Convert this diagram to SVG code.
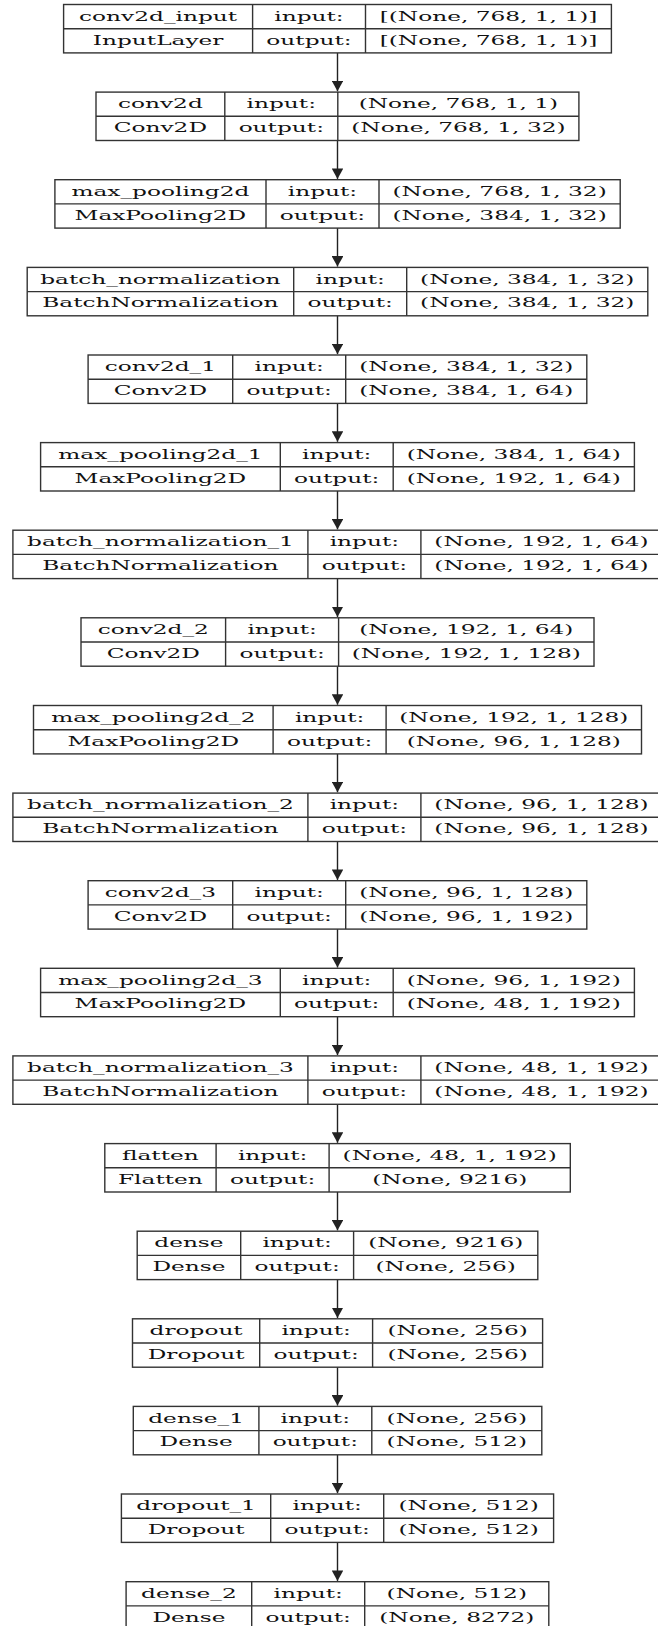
<svg xmlns="http://www.w3.org/2000/svg" width="658" height="1626" viewBox="0 0 658 1626">
<style>
.box{fill:#fff;stroke:#333;stroke-width:1.4}
.ln{stroke:#333;stroke-width:1.4;fill:none}
.e{stroke:#222;stroke-width:1.4;fill:none}
text{font-family:"DejaVu Serif","Liberation Serif",serif;font-size:13px;fill:#111;text-anchor:middle}
</style>
<defs>
<marker id="ah" markerUnits="userSpaceOnUse" markerWidth="10.5" markerHeight="11.6" refX="10.5" refY="5.8" orient="auto"><path d="M0,0 L10.5,5.8 L0,11.6 z" fill="#222"/></marker>
</defs>
<rect width="658" height="1626" fill="#fff"/>
<g id="edges">
<path class="e" d="M337.5,52.9V91.3" marker-end="url(#ah)"/>
<path class="e" d="M337.5,140.5V178.9" marker-end="url(#ah)"/>
<path class="e" d="M337.5,228.1V266.6" marker-end="url(#ah)"/>
<path class="e" d="M337.5,315.8V354.2" marker-end="url(#ah)"/>
<path class="e" d="M337.5,403.4V441.8" marker-end="url(#ah)"/>
<path class="e" d="M337.5,491.0V529.4" marker-end="url(#ah)"/>
<path class="e" d="M337.5,578.6V617.0" marker-end="url(#ah)"/>
<path class="e" d="M337.5,666.2V704.7" marker-end="url(#ah)"/>
<path class="e" d="M337.5,753.9V792.3" marker-end="url(#ah)"/>
<path class="e" d="M337.5,841.5V879.9" marker-end="url(#ah)"/>
<path class="e" d="M337.5,929.1V967.5" marker-end="url(#ah)"/>
<path class="e" d="M337.5,1016.7V1055.1" marker-end="url(#ah)"/>
<path class="e" d="M337.5,1104.3V1142.8" marker-end="url(#ah)"/>
<path class="e" d="M337.5,1192.0V1230.4" marker-end="url(#ah)"/>
<path class="e" d="M337.5,1279.6V1318.0" marker-end="url(#ah)"/>
<path class="e" d="M337.5,1367.2V1405.6" marker-end="url(#ah)"/>
<path class="e" d="M337.5,1454.8V1493.2" marker-end="url(#ah)"/>
<path class="e" d="M337.5,1542.4V1580.9" marker-end="url(#ah)"/>
</g>
<g id="conv2d_input">
<rect class="box" x="63.6" y="4.5" width="547.8" height="48.4"/>
<path class="ln" d="M252.6,4.5V52.9M365.5,4.5V52.9M63.6,28.7H611.4"/>
<text transform="translate(158.1 20.7) scale(1.79 1)">conv2d_input</text>
<text transform="translate(309.0 20.7) scale(1.79 1)">input:</text>
<text transform="translate(488.5 20.7) scale(1.79 1)">[(None, 768, 1, 1)]</text>
<text transform="translate(158.1 44.5) scale(1.79 1)">InputLayer</text>
<text transform="translate(309.0 44.5) scale(1.79 1)">output:</text>
<text transform="translate(488.5 44.5) scale(1.79 1)">[(None, 768, 1, 1)]</text>
</g>
<g id="conv2d">
<rect class="box" x="96.0" y="92.1" width="482.9" height="48.4"/>
<path class="ln" d="M224.8,92.1V140.5M337.8,92.1V140.5M96.0,116.3H578.9"/>
<text transform="translate(160.4 108.3) scale(1.79 1)">conv2d</text>
<text transform="translate(281.3 108.3) scale(1.79 1)">input:</text>
<text transform="translate(458.4 108.3) scale(1.79 1)">(None, 768, 1, 1)</text>
<text transform="translate(160.4 132.1) scale(1.79 1)">Conv2D</text>
<text transform="translate(281.3 132.1) scale(1.79 1)">output:</text>
<text transform="translate(458.4 132.1) scale(1.79 1)">(None, 768, 1, 32)</text>
</g>
<g id="max_pooling2d">
<rect class="box" x="54.9" y="179.7" width="565.3" height="48.4"/>
<path class="ln" d="M266.0,179.7V228.1M379.0,179.7V228.1M54.9,203.9H620.2"/>
<text transform="translate(160.4 195.9) scale(1.79 1)">max_pooling2d</text>
<text transform="translate(322.5 195.9) scale(1.79 1)">input:</text>
<text transform="translate(499.6 195.9) scale(1.79 1)">(None, 768, 1, 32)</text>
<text transform="translate(160.4 219.7) scale(1.79 1)">MaxPooling2D</text>
<text transform="translate(322.5 219.7) scale(1.79 1)">output:</text>
<text transform="translate(499.6 219.7) scale(1.79 1)">(None, 384, 1, 32)</text>
</g>
<g id="batch_normalization">
<rect class="box" x="27.2" y="267.4" width="620.6" height="48.4"/>
<path class="ln" d="M293.7,267.4V315.8M406.7,267.4V315.8M27.2,291.6H647.8"/>
<text transform="translate(160.4 283.6) scale(1.79 1)">batch_normalization</text>
<text transform="translate(350.2 283.6) scale(1.79 1)">input:</text>
<text transform="translate(527.2 283.6) scale(1.79 1)">(None, 384, 1, 32)</text>
<text transform="translate(160.4 307.4) scale(1.79 1)">BatchNormalization</text>
<text transform="translate(350.2 307.4) scale(1.79 1)">output:</text>
<text transform="translate(527.2 307.4) scale(1.79 1)">(None, 384, 1, 32)</text>
</g>
<g id="conv2d_1">
<rect class="box" x="88.1" y="355.0" width="498.7" height="48.4"/>
<path class="ln" d="M232.7,355.0V403.4M345.7,355.0V403.4M88.1,379.2H586.8"/>
<text transform="translate(160.4 371.2) scale(1.79 1)">conv2d_1</text>
<text transform="translate(289.2 371.2) scale(1.79 1)">input:</text>
<text transform="translate(466.3 371.2) scale(1.79 1)">(None, 384, 1, 32)</text>
<text transform="translate(160.4 395.0) scale(1.79 1)">Conv2D</text>
<text transform="translate(289.2 395.0) scale(1.79 1)">output:</text>
<text transform="translate(466.3 395.0) scale(1.79 1)">(None, 384, 1, 64)</text>
</g>
<g id="max_pooling2d_1">
<rect class="box" x="40.6" y="442.6" width="593.8" height="48.4"/>
<path class="ln" d="M280.3,442.6V491.0M393.2,442.6V491.0M40.6,466.8H634.4"/>
<text transform="translate(160.4 458.8) scale(1.79 1)">max_pooling2d_1</text>
<text transform="translate(336.7 458.8) scale(1.79 1)">input:</text>
<text transform="translate(513.8 458.8) scale(1.79 1)">(None, 384, 1, 64)</text>
<text transform="translate(160.4 482.6) scale(1.79 1)">MaxPooling2D</text>
<text transform="translate(336.7 482.6) scale(1.79 1)">output:</text>
<text transform="translate(513.8 482.6) scale(1.79 1)">(None, 192, 1, 64)</text>
</g>
<g id="batch_normalization_1">
<rect class="box" x="12.9" y="530.2" width="649.1" height="48.4"/>
<path class="ln" d="M307.9,530.2V578.6M420.9,530.2V578.6M12.9,554.4H662"/>
<text transform="translate(160.4 546.4) scale(1.79 1)">batch_normalization_1</text>
<text transform="translate(364.4 546.4) scale(1.79 1)">input:</text>
<text transform="translate(541.5 546.4) scale(1.79 1)">(None, 192, 1, 64)</text>
<text transform="translate(160.4 570.2) scale(1.79 1)">BatchNormalization</text>
<text transform="translate(364.4 570.2) scale(1.79 1)">output:</text>
<text transform="translate(541.5 570.2) scale(1.79 1)">(None, 192, 1, 64)</text>
</g>
<g id="conv2d_2">
<rect class="box" x="81.0" y="617.8" width="513.0" height="48.4"/>
<path class="ln" d="M225.6,617.8V666.2M338.6,617.8V666.2M81.0,642.0H594.0"/>
<text transform="translate(153.3 634.0) scale(1.79 1)">conv2d_2</text>
<text transform="translate(282.1 634.0) scale(1.79 1)">input:</text>
<text transform="translate(466.3 634.0) scale(1.79 1)">(None, 192, 1, 64)</text>
<text transform="translate(153.3 657.8) scale(1.79 1)">Conv2D</text>
<text transform="translate(282.1 657.8) scale(1.79 1)">output:</text>
<text transform="translate(466.3 657.8) scale(1.79 1)">(None, 192, 1, 128)</text>
</g>
<g id="max_pooling2d_2">
<rect class="box" x="33.5" y="705.5" width="608.0" height="48.4"/>
<path class="ln" d="M273.1,705.5V753.9M386.1,705.5V753.9M33.5,729.7H641.5"/>
<text transform="translate(153.3 721.7) scale(1.79 1)">max_pooling2d_2</text>
<text transform="translate(329.6 721.7) scale(1.79 1)">input:</text>
<text transform="translate(513.8 721.7) scale(1.79 1)">(None, 192, 1, 128)</text>
<text transform="translate(153.3 745.5) scale(1.79 1)">MaxPooling2D</text>
<text transform="translate(329.6 745.5) scale(1.79 1)">output:</text>
<text transform="translate(513.8 745.5) scale(1.79 1)">(None, 96, 1, 128)</text>
</g>
<g id="batch_normalization_2">
<rect class="box" x="12.9" y="793.1" width="649.1" height="48.4"/>
<path class="ln" d="M307.9,793.1V841.5M420.9,793.1V841.5M12.9,817.3H662"/>
<text transform="translate(160.4 809.3) scale(1.79 1)">batch_normalization_2</text>
<text transform="translate(364.4 809.3) scale(1.79 1)">input:</text>
<text transform="translate(541.5 809.3) scale(1.79 1)">(None, 96, 1, 128)</text>
<text transform="translate(160.4 833.1) scale(1.79 1)">BatchNormalization</text>
<text transform="translate(364.4 833.1) scale(1.79 1)">output:</text>
<text transform="translate(541.5 833.1) scale(1.79 1)">(None, 96, 1, 128)</text>
</g>
<g id="conv2d_3">
<rect class="box" x="88.1" y="880.7" width="498.7" height="48.4"/>
<path class="ln" d="M232.7,880.7V929.1M345.7,880.7V929.1M88.1,904.9H586.8"/>
<text transform="translate(160.4 896.9) scale(1.79 1)">conv2d_3</text>
<text transform="translate(289.2 896.9) scale(1.79 1)">input:</text>
<text transform="translate(466.3 896.9) scale(1.79 1)">(None, 96, 1, 128)</text>
<text transform="translate(160.4 920.7) scale(1.79 1)">Conv2D</text>
<text transform="translate(289.2 920.7) scale(1.79 1)">output:</text>
<text transform="translate(466.3 920.7) scale(1.79 1)">(None, 96, 1, 192)</text>
</g>
<g id="max_pooling2d_3">
<rect class="box" x="40.6" y="968.3" width="593.8" height="48.4"/>
<path class="ln" d="M280.3,968.3V1016.7M393.2,968.3V1016.7M40.6,992.5H634.4"/>
<text transform="translate(160.4 984.5) scale(1.79 1)">max_pooling2d_3</text>
<text transform="translate(336.7 984.5) scale(1.79 1)">input:</text>
<text transform="translate(513.8 984.5) scale(1.79 1)">(None, 96, 1, 192)</text>
<text transform="translate(160.4 1008.3) scale(1.79 1)">MaxPooling2D</text>
<text transform="translate(336.7 1008.3) scale(1.79 1)">output:</text>
<text transform="translate(513.8 1008.3) scale(1.79 1)">(None, 48, 1, 192)</text>
</g>
<g id="batch_normalization_3">
<rect class="box" x="12.9" y="1055.9" width="649.1" height="48.4"/>
<path class="ln" d="M307.9,1055.9V1104.3M420.9,1055.9V1104.3M12.9,1080.1H662"/>
<text transform="translate(160.4 1072.1) scale(1.79 1)">batch_normalization_3</text>
<text transform="translate(364.4 1072.1) scale(1.79 1)">input:</text>
<text transform="translate(541.5 1072.1) scale(1.79 1)">(None, 48, 1, 192)</text>
<text transform="translate(160.4 1095.9) scale(1.79 1)">BatchNormalization</text>
<text transform="translate(364.4 1095.9) scale(1.79 1)">output:</text>
<text transform="translate(541.5 1095.9) scale(1.79 1)">(None, 48, 1, 192)</text>
</g>
<g id="flatten">
<rect class="box" x="104.8" y="1143.6" width="465.5" height="48.4"/>
<path class="ln" d="M216.1,1143.6V1192.0M329.1,1143.6V1192.0M104.8,1167.8H570.3"/>
<text transform="translate(160.4 1159.8) scale(1.79 1)">flatten</text>
<text transform="translate(272.6 1159.8) scale(1.79 1)">input:</text>
<text transform="translate(449.7 1159.8) scale(1.79 1)">(None, 48, 1, 192)</text>
<text transform="translate(160.4 1183.6) scale(1.79 1)">Flatten</text>
<text transform="translate(272.6 1183.6) scale(1.79 1)">output:</text>
<text transform="translate(449.7 1183.6) scale(1.79 1)">(None, 9216)</text>
</g>
<g id="dense">
<rect class="box" x="137.2" y="1231.2" width="400.6" height="48.4"/>
<path class="ln" d="M240.7,1231.2V1279.6M353.6,1231.2V1279.6M137.2,1255.4H537.8"/>
<text transform="translate(188.9 1247.4) scale(1.79 1)">dense</text>
<text transform="translate(297.1 1247.4) scale(1.79 1)">input:</text>
<text transform="translate(445.7 1247.4) scale(1.79 1)">(None, 9216)</text>
<text transform="translate(188.9 1271.2) scale(1.79 1)">Dense</text>
<text transform="translate(297.1 1271.2) scale(1.79 1)">output:</text>
<text transform="translate(445.7 1271.2) scale(1.79 1)">(None, 256)</text>
</g>
<g id="dropout">
<rect class="box" x="132.5" y="1318.8" width="410.1" height="48.4"/>
<path class="ln" d="M259.7,1318.8V1367.2M372.6,1318.8V1367.2M132.5,1343.0H542.6"/>
<text transform="translate(196.1 1335.0) scale(1.79 1)">dropout</text>
<text transform="translate(316.1 1335.0) scale(1.79 1)">input:</text>
<text transform="translate(457.6 1335.0) scale(1.79 1)">(None, 256)</text>
<text transform="translate(196.1 1358.8) scale(1.79 1)">Dropout</text>
<text transform="translate(316.1 1358.8) scale(1.79 1)">output:</text>
<text transform="translate(457.6 1358.8) scale(1.79 1)">(None, 256)</text>
</g>
<g id="dense_1">
<rect class="box" x="133.3" y="1406.4" width="408.5" height="48.4"/>
<path class="ln" d="M258.9,1406.4V1454.8M371.8,1406.4V1454.8M133.3,1430.6H541.8"/>
<text transform="translate(196.1 1422.6) scale(1.79 1)">dense_1</text>
<text transform="translate(315.3 1422.6) scale(1.79 1)">input:</text>
<text transform="translate(456.8 1422.6) scale(1.79 1)">(None, 256)</text>
<text transform="translate(196.1 1446.4) scale(1.79 1)">Dense</text>
<text transform="translate(315.3 1446.4) scale(1.79 1)">output:</text>
<text transform="translate(456.8 1446.4) scale(1.79 1)">(None, 512)</text>
</g>
<g id="dropout_1">
<rect class="box" x="121.4" y="1494.0" width="432.2" height="48.4"/>
<path class="ln" d="M270.7,1494.0V1542.4M383.7,1494.0V1542.4M121.4,1518.2H553.6"/>
<text transform="translate(196.1 1510.2) scale(1.79 1)">dropout_1</text>
<text transform="translate(327.2 1510.2) scale(1.79 1)">input:</text>
<text transform="translate(468.7 1510.2) scale(1.79 1)">(None, 512)</text>
<text transform="translate(196.1 1534.0) scale(1.79 1)">Dropout</text>
<text transform="translate(327.2 1534.0) scale(1.79 1)">output:</text>
<text transform="translate(468.7 1534.0) scale(1.79 1)">(None, 512)</text>
</g>
<g id="dense_2">
<rect class="box" x="126.1" y="1581.7" width="422.7" height="48.4"/>
<path class="ln" d="M251.7,1581.7V1630.1M364.7,1581.7V1630.1M126.1,1605.9H548.8"/>
<text transform="translate(188.9 1597.9) scale(1.79 1)">dense_2</text>
<text transform="translate(308.2 1597.9) scale(1.79 1)">input:</text>
<text transform="translate(456.8 1597.9) scale(1.79 1)">(None, 512)</text>
<text transform="translate(188.9 1621.7) scale(1.79 1)">Dense</text>
<text transform="translate(308.2 1621.7) scale(1.79 1)">output:</text>
<text transform="translate(456.8 1621.7) scale(1.79 1)">(None, 8272)</text>
</g>
</svg>
